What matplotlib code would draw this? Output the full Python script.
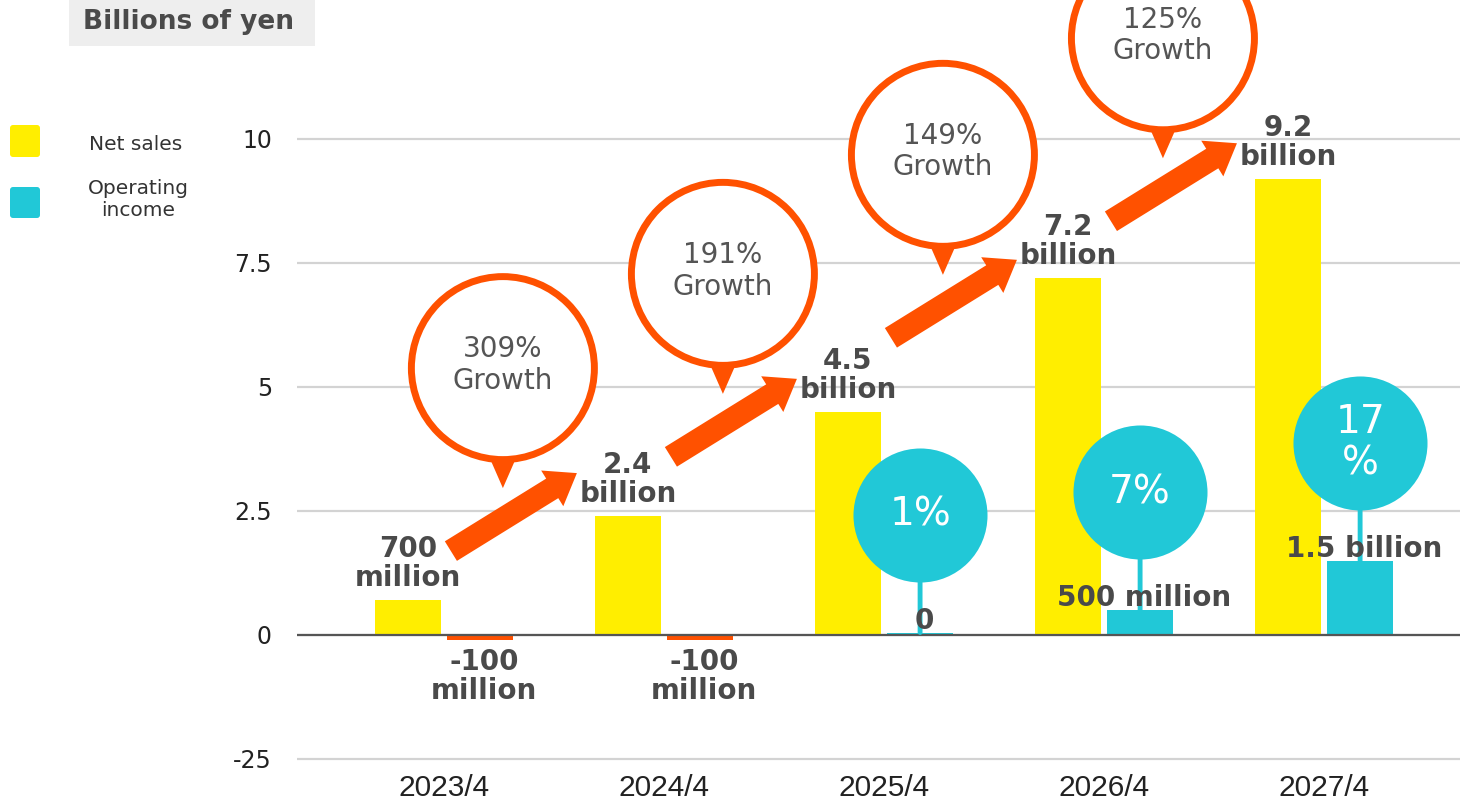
import numpy as np
import matplotlib
matplotlib.use("Agg")
import matplotlib.pyplot as plt
import matplotlib.patches as mpatches
import matplotlib.transforms as mtransforms

# ---- data -------------------------------------------------------------
years = ["2023/4", "2024/4", "2025/4", "2026/4", "2027/4"]
net_sales = [0.7, 2.4, 4.5, 7.2, 9.2]                 # billions of yen
operating_income = [-0.1, -0.1, 0.05, 0.5, 1.5]       # billions of yen
sales_labels = ["700\nmillion", "2.4\nbillion", "4.5\nbillion",
                "7.2\nbillion", "9.2\nbillion"]
income_labels = ["-100\nmillion", "-100\nmillion", "0",
                 "500 million", "1.5 billion"]
growth_pct = [309, 191, 149, 125]
margin_pct = [None, None, 1, 7, 17]
ytick_values = [-2.5, 0, 2.5, 5, 7.5, 10]
ytick_labels = ["-25", "0", "2.5", "5", "7.5", "10"]

# ---- style ------------------------------------------------------------
YELLOW = "#FFEE00"
CYAN = "#21C8D7"
ORANGE = "#FF5100"
DARK = "#4a4a4a"
W, H = 1460, 805
IDENT = mtransforms.IdentityTransform()

fig = plt.figure(figsize=(W / 100, H / 100), dpi=100)
ax = fig.add_axes([297 / W, 35 / H, 1163 / W, 770 / H])
ax.set_xlim(-0.668, 4.618)
ax.set_ylim(-2.722, 12.802)

x = np.arange(len(years))
off, bw = 0.164, 0.3

ax.bar(x - off, net_sales, bw, color=YELLOW, zorder=2)
ax.bar(x + off, operating_income, bw,
       color=[CYAN if v >= 0 else ORANGE for v in operating_income], zorder=2)

# axes, grid, ticks
for s in ax.spines.values():
    s.set_visible(False)
ax.set_yticks(ytick_values, ytick_labels)
ax.yaxis.grid(True, color="#d3d3d3", lw=1.6)
ax.set_axisbelow(True)
ax.axhline(0, color="#555555", lw=1.6, zorder=3)
ax.tick_params(axis="y", length=0, pad=18, labelsize=17, labelcolor="#222222")
ax.set_xticks(x, years)
ax.tick_params(axis="x", length=0, pad=3, labelsize=21.5, labelcolor="#222222")
for lab in ax.get_xticklabels():
    lab.set_fontfamily("Liberation Sans")

# value labels
for xi, v, s in zip(x, net_sales, sales_labels):
    ax.annotate(s, xy=(xi - off, v), xytext=(0, 8), textcoords="offset pixels",
                ha="center", va="bottom", fontsize=20, fontweight="bold",
                color=DARK, linespacing=1.05, zorder=7)

for xi, v, s in zip(x, operating_income, income_labels):
    if v < 0:
        ax.annotate(s, xy=(xi + off, v), xytext=(4, -8), textcoords="offset pixels",
                    ha="center", va="top", fontsize=20, fontweight="bold",
                    color=DARK, linespacing=1.05, zorder=7)
    else:
        ax.annotate(s, xy=(xi + off, v), xytext=(4, 4), textcoords="offset pixels",
                    ha="center", va="baseline", fontsize=20, fontweight="bold",
                    color=DARK, zorder=7)

# operating margin bubbles
for xi, v, m in zip(x, operating_income, margin_pct):
    if m is None:
        continue
    bx = xi + off
    tr = mtransforms.offset_copy(ax.transData, fig=fig, x=0, y=118, units="dots")
    ax.annotate("", xy=(bx, v), xytext=(0, 118), textcoords="offset pixels",
                arrowprops=dict(arrowstyle="-", color=CYAN, lw=3.5,
                                shrinkA=0, shrinkB=0), zorder=3)
    ax.plot([bx], [v], marker="o", ms=96.5, mfc=CYAN, mec="none",
            transform=tr, zorder=4, clip_on=False)
    txt = f"{m}%" if m < 10 else f"{m}\n%"
    ax.text(bx, v, txt, transform=tr, ha="center", va="center", fontsize=28,
            color="white", zorder=5, linespacing=1.1)

# growth arrows and callouts: each arrow sits above the two bars it links
for i, g in enumerate(growth_pct):
    x0, y0 = ax.transData.transform((x[i] - off, net_sales[i]))
    _, y1 = ax.transData.transform((x[i + 1] - off, net_sales[i + 1]))
    dx, dy = 126, 78
    mx, my = x0 + 43 + dx / 2, (y0 + y1) / 2 + 46
    tail_x, tail_y = mx - dx / 2, my - dy / 2
    ax.add_patch(mpatches.FancyArrow(tail_x, tail_y, dx, dy, width=23,
                                     head_width=42, head_length=29,
                                     length_includes_head=True, color=ORANGE,
                                     lw=0, transform=IDENT, zorder=4))
    cx, cy = mx - 11, my + 144
    ax.add_patch(mpatches.Polygon([(cx - 14, cy - 88), (cx + 14, cy - 88),
                                   (cx, cy - 120)], closed=True,
                                  color=ORANGE, lw=0, transform=IDENT, zorder=5))
    ax.add_patch(mpatches.Circle((cx, cy), 91.5, fc="white", ec=ORANGE, lw=5,
                                 transform=IDENT, zorder=5.5))
    ax.text(cx, cy + 3, f"{g}%\nGrowth", transform=IDENT, ha="center",
            va="center", fontsize=20, color="#555555", zorder=6,
            linespacing=1.15)

# unit caption
fig.add_artist(mpatches.Rectangle((69, H - 46), 246, 52, fc="#eeeeee",
                                  ec="none", transform=IDENT))
fig.text(83, H - 22, "Billions of yen", transform=IDENT, ha="left",
         va="center", fontsize=19, fontweight="bold", color=DARK)

# legend
fig.add_artist(mpatches.FancyBboxPatch((10, H - 157), 30, 32,
               boxstyle="round,pad=0,rounding_size=3", fc=YELLOW, ec="none",
               transform=IDENT))
fig.add_artist(mpatches.FancyBboxPatch((10, H - 218), 30, 31,
               boxstyle="round,pad=0,rounding_size=3", fc=CYAN, ec="none",
               transform=IDENT))
fig.text(136, H - 144, "Net sales", transform=IDENT, ha="center", va="center",
         fontsize=14.5, color="#333333")
fig.text(138, H - 199, "Operating\nincome", transform=IDENT, ha="center",
         va="center", fontsize=14.5, color="#333333", linespacing=1.2)

fig.savefig("out.png", dpi=100)
